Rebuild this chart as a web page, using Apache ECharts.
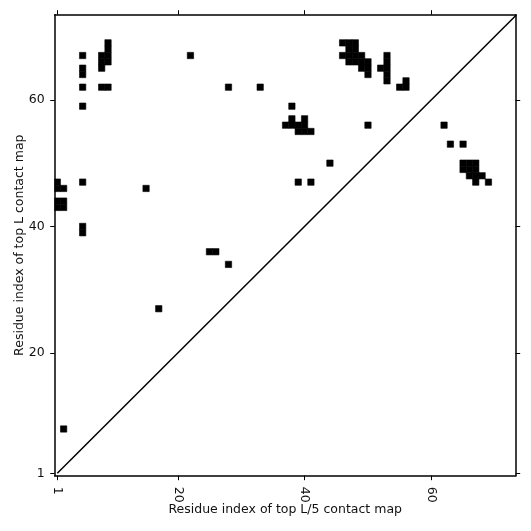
<!DOCTYPE html>
<html>
<head>
<meta charset="utf-8">
<script src="https://cdn.jsdelivr.net/npm/echarts@6/dist/echarts.min.js"></script>
<style>
  html, body { margin: 0; padding: 0; background: #fff; }
  #main { width: 531px; height: 531px; }
</style>
</head>
<body>
<div id="main"></div>
<script>
// contact cells [residue i (x), residue j (y)]
var upperCells = [
  [5, 47], [5, 59], [5, 62], [5, 64], [5, 65], [5, 67],
  [8, 62], [9, 62], [8, 65], [8, 66], [8, 67], [9, 66], [9, 67], [9, 68], [9, 69],
  [15, 46], [22, 67], [28, 62], [33, 62],
  [38, 59], [38, 57], [40, 57], [37, 56], [38, 56], [39, 56], [40, 56], [39, 55], [40, 55], [41, 55],
  [39, 47], [41, 47], [44, 50], [50, 56],
  [46, 69], [47, 69], [48, 69], [47, 68], [48, 68],
  [46, 67], [47, 67], [48, 67], [49, 67],
  [47, 66], [48, 66], [49, 66], [50, 66],
  [49, 65], [50, 65], [50, 64],
  [52, 65], [53, 67], [53, 66], [53, 65], [53, 64], [53, 63],
  [56, 63], [55, 62], [56, 62]
];
var lowerCells = [
  [2, 8], [17, 27], [28, 34], [25, 36], [26, 36],
  [5, 39], [5, 40],
  [1, 43], [2, 43], [1, 44], [2, 44],
  [1, 46], [2, 46], [1, 47],
  [62, 56], [63, 53], [65, 53],
  [65, 50], [66, 50], [67, 50], [65, 49], [66, 49], [67, 49],
  [66, 48], [67, 48], [68, 48], [67, 47], [69, 47]
];
var diagonal = [[1, 1], [73.4, 73.4]];
var tickValues = [1, 20, 40, 60];
var xRange = [0.59, 73.3];
var yRange = [0.62, 73.45];

var chart = echarts.init(document.getElementById('main'));
var font = 'DejaVu Sans';

function cellRender(params, api) {
  var x = api.value(0), y = api.value(1);
  var p0 = api.coord([x - 0.5, y + 0.5]);
  var p1 = api.coord([x + 0.5, y - 0.5]);
  var rect = echarts.graphic.clipRectByRect({
    x: p0[0], y: p0[1], width: p1[0] - p0[0], height: p1[1] - p0[1]
  }, {
    x: params.coordSys.x, y: params.coordSys.y,
    width: params.coordSys.width, height: params.coordSys.height
  });
  return rect && {
    type: 'rect',
    shape: rect,
    style: { fill: '#000', stroke: '#000', lineWidth: 0.6 }
  };
}

function mainAxis(range, extra) {
  return Object.assign({
    type: 'value',
    min: range[0],
    max: range[1],
    nameLocation: 'middle',
    nameMoveOverlap: false,
    nameTextStyle: { fontFamily: font, fontSize: 12.5, color: '#111' },
    axisLine: { show: true, onZero: false, lineStyle: { color: '#000', width: 1.5 } },
    axisTick: { show: true, inside: false, length: 4.5, customValues: tickValues,
      lineStyle: { color: '#000', width: 1 } },
    axisLabel: { customValues: tickValues, fontFamily: font, fontSize: 12.5, color: '#111' },
    splitLine: { show: false }
  }, extra);
}

function sideAxis(range, pos) {
  return {
    type: 'value',
    position: pos,
    min: range[0],
    max: range[1],
    axisLine: { show: true, onZero: false, lineStyle: { color: '#000', width: 1.5 } },
    axisTick: { show: true, inside: false, length: 4.5, customValues: tickValues,
      lineStyle: { color: '#000', width: 1 } },
    axisLabel: { show: false },
    splitLine: { show: false }
  };
}

var xMain = mainAxis(xRange, { position: 'bottom', name: 'Residue index of top L/5 contact map', nameGap: 28 });
xMain.axisLabel.rotate = -90;
xMain.axisLabel.margin = 11;
var yMain = mainAxis(yRange, { position: 'left', name: 'Residue index of top L contact map', nameGap: 28 });
yMain.axisLabel.margin = 10;

var option = {
  backgroundColor: '#fff',
  animation: false,
  grid: { left: 54.7, top: 14.7, right: 15.3, bottom: 55.3 },
  xAxis: [xMain, sideAxis(xRange, 'top')],
  yAxis: [yMain, sideAxis(yRange, 'right')],
  series: [
    {
      type: 'custom',
      renderItem: cellRender,
      data: upperCells,
      encode: { x: 0, y: 1 }
    },
    {
      type: 'custom',
      renderItem: cellRender,
      data: lowerCells,
      encode: { x: 0, y: 1 }
    },
    {
      type: 'line',
      data: diagonal,
      symbol: 'none',
      clip: true,
      lineStyle: { color: '#000', width: 1.5 }
    }
  ]
};
chart.setOption(option);
</script>
</body>
</html>
